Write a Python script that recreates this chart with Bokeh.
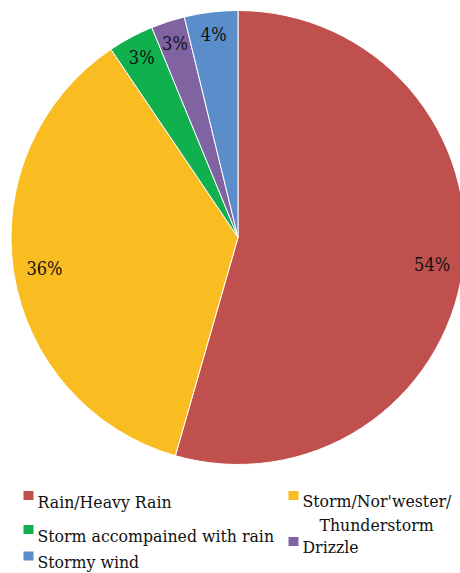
import numpy as np
from bokeh.plotting import figure
from bokeh.models import Range1d, ColumnDataSource
from bokeh.core.properties import value
from bokeh.embed import file_html
from bokeh.resources import INLINE

categories = ["Rain/Heavy Rain", "Storm/Nor'wester/Thunderstorm",
              "Storm accompained with rain", "Drizzle", "Stormy wind"]
shares = [54.45, 36.1, 3.25, 2.4, 3.8]
pct_labels = ["54%", "36%", "3%", "3%", "4%"]
colors = ["#C0504D", "#F9BD22", "#10B04F", "#8064A2", "#5B8DCA"]

W, H = 460, 573
LFONT = "DejaVu Serif Condensed"

p = figure(width=W, height=H, output_backend="svg", toolbar_location=None,
           x_range=Range1d(0, W), y_range=Range1d(0, H), min_border=0,
           outline_line_color=None, background_fill_color="white")
p.axis.visible = False
p.grid.visible = False

cx, cy, R = 237.5, H - 237.0, 227.0
frac = np.array(shares) / np.sum(shares)
c1 = np.cumsum(frac)
c0 = c1 - frac
start = np.pi / 2 - 2 * np.pi * c0
end = np.pi / 2 - 2 * np.pi * c1

src = ColumnDataSource(dict(start=start, end=end, color=colors))
p.wedge(x=cx, y=cy, radius=R, start_angle="start", end_angle="end",
        direction="clock", fill_color="color", line_color="white",
        line_width=1, source=src)

mid = (start + end) / 2
lr = np.where(frac > 0.1, 196.0, 204.0)
lx = cx + lr * np.cos(mid)
ly = cy + lr * np.sin(mid)
p.text(x=lx, y=ly, text=pct_labels, text_font=value(LFONT),
       text_font_size="18px", text_align="center", text_baseline="middle",
       text_color="#111111")

# legend (manual layout)
leg_sq_x = [28, 293, 28, 293, 28]
leg_sq_y = [495, 495, 529, 541, 555.5]
leg_tx = [37, 302, 37, 302, 37]
leg_ty = [501.5, 500.5, 535.5, 546.5, 561]
leg_text = ["Rain/Heavy Rain", "Storm/Nor'wester/", "Storm accompained with rain",
            "Drizzle", "Stormy wind"]
p.rect(x=leg_sq_x, y=[H - v for v in leg_sq_y], width=10, height=9,
       fill_color=colors, line_color=None)
p.text(x=leg_tx, y=[H - v for v in leg_ty], text=leg_text, text_font=value(LFONT),
       text_font_size="17.5px", text_align="left", text_baseline="alphabetic",
       text_color="#111111")
p.text(x=[376], y=[H - 524], text=["Thunderstorm"], text_font=value(LFONT),
       text_font_size="17.5px", text_align="center", text_baseline="alphabetic",
       text_color="#111111")

open("out.html", "w").write(file_html(p, INLINE))
